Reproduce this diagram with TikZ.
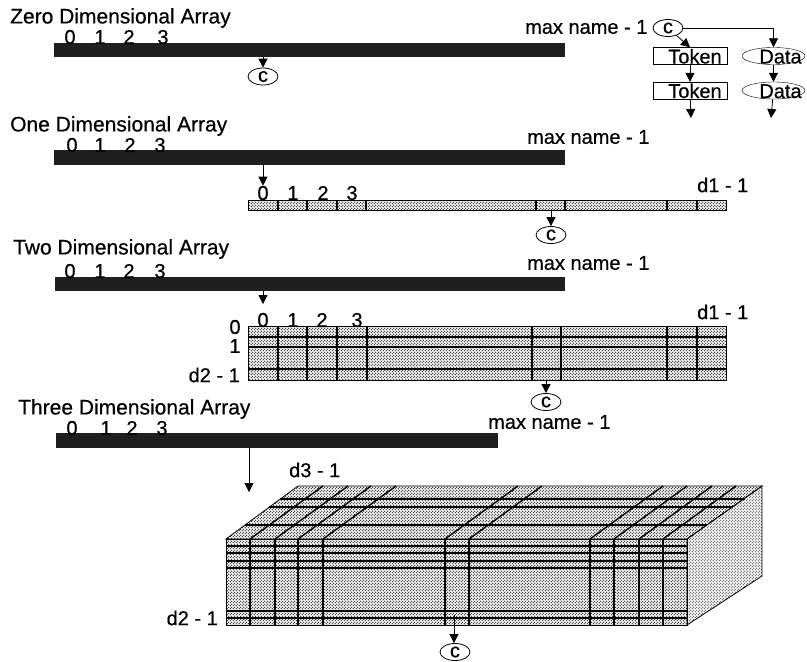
\documentclass[tikz,border=0pt]{standalone}
\usepackage{fontspec}
\setmainfont{Liberation Sans}[FakeBold=0.5]
\usetikzlibrary{
	arrows.meta,
	patterns,
	shapes.geometric
}
\pgfdeclarepatternformonly{halftone}{\pgfqpoint{-1pt}{-1pt}}{\pgfqpoint{4pt}{4pt}}{\pgfqpoint{3pt}{3pt}}{
	\pgfpathcircle{\pgfqpoint{0.75pt}{0.75pt}}{0.55pt}
	\pgfpathcircle{\pgfqpoint{2.25pt}{2.25pt}}{0.55pt}
	\pgfusepath{fill}
}
% text that does not widen the shape round it
\newcommand{\tighttext}[2]{\raisebox{-7.5pt}[0pt][0pt]{\makebox[0pt]{\hspace{#1}#2}}}

\begin{document}
\begin{tikzpicture}[
			x=1pt,y=-1pt,
			label/.style={
				font=\fontsize{20}{22}\selectfont,
				inner sep=0pt
			},
			title/.style={
				font=\fontsize{21}{23}\selectfont,
				inner sep=0pt,
				anchor=west
			},
			bar/.style={
				fill=black!88,
				inner sep=0pt,
				anchor=north west,
				minimum height=14pt
			},
			cnode/.style={
				draw,
				thick,
				ellipse,
				label,
				minimum width=30pt,
				minimum height=17pt
			},
			token/.style={
				draw,
				label,
				minimum width=74pt,
				minimum height=17pt
			},
			datum/.style={
				draw,
				ellipse,
				label,
				minimum width=63pt,
				minimum height=17pt
			},
			face/.style={
				draw,
				thick,
				pattern=halftone,
				pattern color=black
			},
			side/.style={
				draw,
				thick,
				pattern=halftone,
				pattern color=black!75
			},
			grid/.style={line width=1.4pt},
			arrow/.style={-{Triangle[width=9pt,length=9pt]},thick}
			]
			
			\useasboundingbox (0,0) rectangle (807,662);
			
			% zero dimensional
			\node[title] (zerotitle) at (10,18) {Zero Dimensional Array};
			\node[bar,minimum width=511pt] (zerobar) at (54,43) {};
			\foreach \i/\x in {0/70,1/100,2/129,3/163}
			\node[label] (zeroidx\i) at (\x,37) {\i};
			\node[label,anchor=west] (zeromax) at (525,27) {max name - 1};
			\node[cnode] (czero) at (263,76.5) {c};
			\draw[arrow] (zerobar.south -| czero.north) -- (czero.north);
			
			% linked list
			\node[cnode] (clist) at (668,28) {c};
			\node[token] (tokena) at (690,56) {\tighttext{10pt}{Token}};
			\node[token] (tokenb) at (690,90.5) {\tighttext{10pt}{Token}};
			\node[datum] (dataa) at (773.5,56) {\tighttext{14pt}{Data}};
			\node[datum] (datab) at (773.5,90.5) {\tighttext{14pt}{Data}};
			\coordinate (tokenend) at (691,118);
			\coordinate (dataend) at (771,118);
			\draw[arrow] (clist) -- (tokena.north);
			\draw[arrow] (clist.east) -| (dataa.north);
			\draw[arrow] (tokena) -- (tokenb.north);
			\draw[arrow] (dataa) -- (datab.north);
			\draw[arrow] (tokenb) -- (tokenend);
			\draw[arrow] (datab) -- (dataend);
			
			% one dimensional
			\node[title] (onetitle) at (10,126) {One Dimensional Array};
			\node[bar,minimum width=511pt,minimum height=15pt] (onebar) at (54,150) {};
			\foreach \i/\x in {0/72,1/100,2/130,3/160}
			\node[label] (oneidx\i) at (\x,145) {\i};
			\node[label,anchor=west] (onemax) at (527,137) {max name - 1};
			\node[face,inner sep=0pt,minimum width=478pt,minimum height=10pt,anchor=north west] (onearr) at (248,200) {};
			\foreach \x in {278,307,337,366,536,565,667,697}
			\draw[grid] (\x,200) -- (\x,210);
			\foreach \i/\x in {0/263,1/293,2/323,3/352}
			\node[label] (onecol\i) at (\x,193) {\i};
			\node[label,anchor=west] (oned) at (697,185) {d1 - 1};
			\node[cnode] (cone) at (551,235) {c};
			\draw[arrow] (onearr.south -| cone.north) -- (cone.north);
			\draw[arrow] (onebar.south -| onecol0.north) -- (onecol0.north);
			
			% two dimensional
			\node[title] (twotitle) at (13,249) {Two Dimensional Array};
			\node[bar,minimum width=510pt] (twobar) at (55,277) {};
			\foreach \i/\x in {0/70,1/100,2/129,3/160}
			\node[label] (twoidx\i) at (\x,271) {\i};
			\node[label,anchor=west] (twomax) at (527,263) {max name - 1};
			\node[face,inner sep=0pt,minimum width=478pt,minimum height=54pt,anchor=north west] (twoarr) at (248,326) {};
			\foreach \x in {278,307,337,367,532,561,667,697}
			\draw[grid] (\x,326) -- (\x,380);
			\foreach \y in {337,347,369}
			\draw[grid] (248,\y) -- (726,\y);
			\foreach \i/\x in {0/263,1/293,2/322,3/357}
			\node[label] (twocol\i) at (\x,320) {\i};
			\node[label] (rowzero) at (235,327) {0};
			\node[label] (rowone) at (235,346) {1};
			\node[label,anchor=east] (rowlast) at (240,375) {d2 - 1};
			\node[label,anchor=west] (twod) at (697,312) {d1 - 1};
			\node[cnode] (ctwo) at (546,402) {c};
			\coordinate (twoptr) at (263,304);
			\draw[arrow] (twoarr.south -| ctwo.north) -- (ctwo.north);
			\draw[arrow] (twobar.south -| twoptr) -- (twoptr);
			
			% three dimensional
			\node[title] (threetitle) at (18,409) {Three Dimensional Array};
			\node[bar,minimum width=442pt,minimum height=15pt] (threebar) at (56,433) {};
			\foreach \i/\x in {0/72,1/106,2/132,3/162}
			\node[label] (threeidx\i) at (\x,428) {\i};
			\node[label,anchor=west] (threemax) at (488,422) {max name - 1};
			\node[label,anchor=west] (threed) at (289,470) {d3 - 1};
			\coordinate (boxtop) at (249,492);
			\draw[arrow] (threebar.south -| boxtop) -- (boxtop);
			
			\draw[face] (226,539) -- (298,486) -- (762,486) -- (687,539) -- cycle;
			\draw[side] (687,539) -- (762,486) -- (762,576) -- (687,625) -- cycle;
			\draw[face] (226,539) rectangle (687,625);
			\foreach \x in {250,275,298,323,445,469,590,614,639,663} {
				\draw[grid] (\x,539) -- (\x,625);
				\draw[grid] (\x,539) -- (\x+73,486);
			}
			\foreach \y in {546,553,561,568,611,618}
			\draw[grid] (226,\y) -- (687,\y);
			\draw[grid] (280,499) -- (745,499);
			\draw[grid] (269,507) -- (733,507);
			\draw[grid] (245,525) -- (707,525);
			\node[label,anchor=east] (threerow) at (218,618) {d2 - 1};
			\coordinate (boxcell) at (454,615);
			\node[cnode] (cthree) at (455,652) {c};
			\draw[arrow] (boxcell) -- (cthree.north -| boxcell);
			
		\end{tikzpicture}
\end{document}
